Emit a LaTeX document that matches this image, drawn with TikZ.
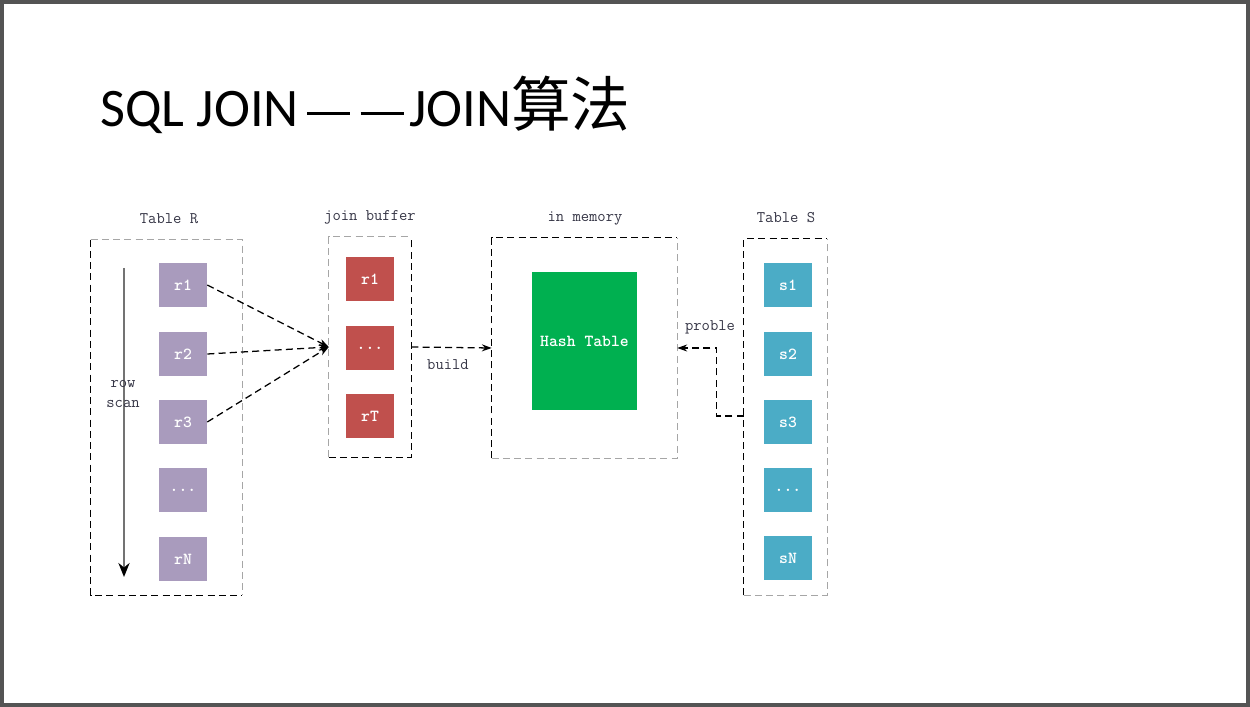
\documentclass[tikz,border=0pt]{standalone}
\usepackage{fontspec}
\setmainfont{Carlito}
\newfontfamily\cjkfont[Scale=1.1]{Noto Sans CJK SC}
\usetikzlibrary{arrows.meta}
\definecolor{rowpurple}{HTML}{A99BBD}
\definecolor{bufred}{HTML}{C0504D}
\definecolor{hashgreen}{HTML}{00B050}
\definecolor{tabblue}{HTML}{4BACC6}
\definecolor{captext}{HTML}{363646}
\definecolor{edgegray}{HTML}{A6A6A6}
\newcommand{\titledash}{\rule[8.6pt]{30.5pt}{2.2pt}}
\tikzset{
	cell/.style={minimum width=1.2cm,minimum height=1.075cm,inner sep=0pt,text=white,font=\fontsize{12}{14}\selectfont\ttfamily\bfseries},
	rcell/.style={cell,fill=rowpurple,name=#1},
	bcell/.style={cell,fill=bufred,name=#1},
	scell/.style={cell,fill=tabblue,name=#1},
	holder/.style 2 args={minimum width=#1,minimum height=#2,inner sep=0pt},
	captxt/.style={font=\fontsize{11.5}{13}\selectfont\ttfamily,text=captext},
	dk/.style={draw=black,line width=0.9pt,dash pattern=on 5pt off 3pt},
	lt/.style={draw=edgegray,line width=0.9pt,dash pattern=on 5pt off 3pt},
	flow/.style={dk,-{Stealth[length=7pt,width=5pt]}}
}

\begin{document}
\begin{tikzpicture}[x=0.025cm,y=-0.025cm]
	\useasboundingbox (0,0) rectangle (1250,707);
	\draw[line width=2.8pt,draw=black!67] (2,2) rectangle (1248,705);
	
	\node [anchor=base west,inner sep=0pt,font=\fontsize{38.6}{46}\selectfont] (title) at (100,127) {SQL JOIN\kern6pt\titledash\kern7.5pt\titledash\kern4pt JOIN{\cjkfont 算法}};
	
	% containers
	\node [holder={3.775cm}{8.875cm}] (tabR) at (166.5,417.5) {};
	\node [holder={2.05cm}{5.5cm}] (jbuf) at (370,347) {};
	\node [holder={4.625cm}{5.5cm}] (mem) at (584.5,348) {};
	\node [holder={2.075cm}{8.9cm}] (tabS) at (785.5,417) {};
	\draw[dk] (tabR.north west) |- (tabR.south east);
	\draw[lt] (tabR.north west) -| (tabR.south east);
	\draw[lt] (jbuf.south west) |- (jbuf.north east);
	\draw[dk] (jbuf.south west) -| (jbuf.north east);
	\draw[dk] (mem.south west) |- (mem.north east);
	\draw[lt] (mem.south west) -| (mem.north east);
	\draw[dk] (tabS.south west) |- (tabS.north east);
	\draw[lt] (tabS.south west) -| (tabS.north east);
	
	\node [captxt] (capR) at (169,219) {Table R};
	\node [captxt] (capJ) at (370,217) {join buffer};
	\node [captxt] (capM) at (585,218) {in memory};
	\node [captxt] (capS) at (786,218) {Table S};
	
	% table R
	\node [rcell=r1] at (183,285) {r1};
	\node [rcell=r2] at (183,354) {r2};
	\node [rcell=r3] at (183,422) {r3};
	\node [rcell=rdots] at (183,490) {...};
	\node [rcell=rN] at (183,559) {rN};
	\coordinate (scantop) at (124,268);
	\coordinate (scanend) at (124,577);
	\draw[draw=black!55,line width=1.2pt,-{Stealth[length=10pt,width=8pt,color=black]}] (scantop) -- (scanend);
	\node [captxt,align=center,inner sep=1pt] (scan) at (123,394) {row\\[1.2pt]scan};
	
	% join buffer
	\node [bcell=b1] at (370,279) {r1};
	\node [bcell=bdots] at (370,348) {...};
	\node [bcell=bT] at (370,416) {rT};
	
	% hash table
	\node [cell,fill=hashgreen,minimum width=2.625cm,minimum height=3.45cm] (hash) at (584.5,341) {Hash Table};
	
	% table S
	\node [scell=s1] at (788,285) {s1};
	\node [scell=s2] at (788,354) {s2};
	\node [scell=s3] at (788,422) {s3};
	\node [scell=sdots] at (788,490) {...};
	\node [scell=sN] at (788,558) {sN};
	
	\draw[flow] (r1.east) -- (jbuf.west);
	\draw[flow] (r2.east) -- (jbuf.west);
	\draw[flow] (r3.east) -- (jbuf.west);
	\draw[flow] (jbuf.east) -- (mem.west);
	\node [captxt] (build) at (448,365) {build};
	\draw[flow] ([yshift=0.15cm]tabS.west |- s3) -- ++(-27,0) |- (mem.east);
	\node [captxt] (probe) at (710,327) {proble};
\end{tikzpicture}
\end{document}
